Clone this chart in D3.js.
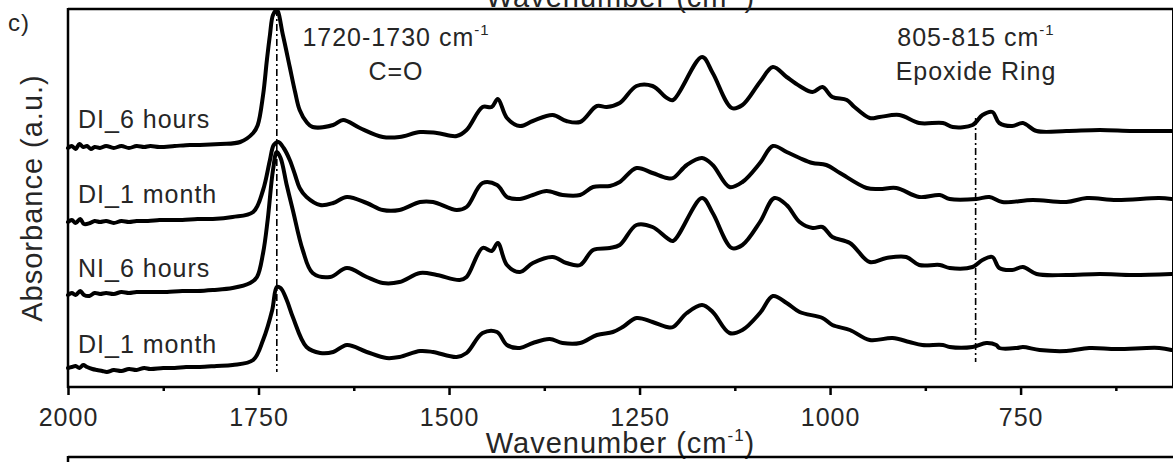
<!DOCTYPE html>
<html>
<head>
<meta charset="utf-8">
<script src="https://cdn.jsdelivr.net/npm/d3@7"></script>
<style>
    body { margin: 0; background: #fff; }
    text { font-family: "Liberation Sans", Arial, sans-serif; fill: #262626; letter-spacing: 1px; }
    .spectrum { fill: none; stroke: #000; stroke-width: 4; stroke-linejoin: round; stroke-linecap: round; }
    .guide { stroke: #000; stroke-width: 1.6; stroke-dasharray: 7,3,2,3; }
    .frame { stroke: #000; }
</style>
</head>
<body>
<svg id="plate" width="1173" height="462"></svg>
<script>
// series names, top to bottom
var seriesNames = ['DI_6 hours', 'DI_1 month', 'NI_6 hours', 'DI_1 month'];

// [wavenumber, absorbance (a.u., offset stacked)]
var di6h = [
    [2000, 2.39], [1995, 2.41], [1990, 2.38], [1985, 2.43], [1980, 2.40], [1975, 2.41], [1970, 2.38],
    [1965, 2.40], [1958, 2.39], [1950, 2.41], [1940, 2.39], [1930, 2.41], [1920, 2.39], [1910, 2.41],
    [1900, 2.40], [1892, 2.41], [1880, 2.40], [1860, 2.41], [1840, 2.42], [1827, 2.42], [1800, 2.43],
    [1774, 2.45],
    [1757, 2.54], [1751, 2.62], [1744, 2.92], [1739, 3.27], [1735, 3.52], [1731, 3.72], [1726, 3.77],
    [1718, 3.52], [1709, 3.20], [1702, 2.95], [1696, 2.77], [1687, 2.65], [1679, 2.60], [1652, 2.62],
    [1639, 2.67], [1617, 2.59], [1587, 2.50], [1565, 2.50], [1538, 2.55], [1516, 2.54], [1490, 2.51],
    [1477, 2.57], [1456, 2.80], [1444, 2.80], [1436, 2.88], [1424, 2.69], [1407, 2.61], [1390, 2.66],
    [1364, 2.72], [1346, 2.66], [1328, 2.65], [1306, 2.81], [1293, 2.80], [1276, 2.84], [1254, 3.01],
    [1233, 3.01], [1214, 2.89], [1206, 2.87], [1168, 3.30], [1154, 3.14], [1129, 2.79], [1115, 2.82],
    [1092, 3.05], [1075, 3.20], [1057, 3.10], [1040, 3.01], [1023, 2.95], [1010, 3.00], [997, 2.90],
    [978, 2.87], [968, 2.80], [948, 2.69], [935, 2.70], [909, 2.72], [883, 2.64], [852, 2.64],
    [839, 2.60], [813, 2.62], [800, 2.72], [787, 2.75], [778, 2.64], [761, 2.61], [747, 2.64],
    [729, 2.56], [690, 2.56], [646, 2.57], [603, 2.56], [552, 2.56]
];

var di1m = [
    [2000, 1.65], [1995, 1.67], [1990, 1.64], [1984, 1.68], [1979, 1.63], [1971, 1.64], [1965, 1.66],
    [1958, 1.65], [1950, 1.66], [1940, 1.64], [1930, 1.66], [1920, 1.65], [1910, 1.66], [1895, 1.66],
    [1880, 1.67], [1870, 1.67], [1850, 1.67], [1830, 1.68], [1810, 1.68], [1784, 1.70],
    [1757, 1.75], [1744, 1.97], [1735, 2.27],
    [1730, 2.42], [1724, 2.45], [1717, 2.39], [1709, 2.27], [1702, 2.12], [1696, 1.99], [1687, 1.90],
    [1669, 1.82], [1652, 1.84], [1634, 1.90], [1608, 1.84], [1587, 1.77], [1565, 1.77], [1538, 1.85],
    [1521, 1.85], [1490, 1.77], [1477, 1.80], [1456, 2.04], [1437, 2.02], [1424, 1.90], [1407, 1.88],
    [1390, 1.92], [1372, 1.96], [1351, 1.92], [1328, 1.92], [1311, 2.00], [1289, 2.01], [1276, 2.05],
    [1254, 2.19], [1233, 2.14], [1214, 2.09], [1206, 2.09], [1188, 2.22], [1168, 2.29], [1154, 2.22],
    [1132, 2.00], [1115, 2.05], [1092, 2.24], [1075, 2.41], [1057, 2.35], [1040, 2.29], [1023, 2.24],
    [1005, 2.22], [987, 2.14], [952, 1.99], [935, 1.98], [913, 1.99], [883, 1.90], [856, 1.92],
    [843, 1.88], [808, 1.88], [791, 1.90], [774, 1.85], [734, 1.87], [690, 1.85], [663, 1.89],
    [624, 1.87], [568, 1.89], [552, 1.88]
];

var ni6h = [
    [2000, 0.92], [1995, 0.94], [1990, 0.92], [1984, 0.96], [1979, 0.92], [1972, 0.91], [1965, 0.94],
    [1958, 0.93], [1950, 0.94], [1940, 0.93], [1930, 0.95], [1920, 0.94], [1910, 0.95], [1895, 0.95],
    [1880, 0.95], [1870, 0.95], [1850, 0.96], [1830, 0.96], [1810, 0.97], [1784, 0.99],
    [1761, 1.04], [1752, 1.10], [1744, 1.34],
    [1738, 1.67], [1731, 2.17], [1726, 2.35], [1721, 2.29], [1713, 2.02], [1705, 1.77], [1692, 1.37],
    [1679, 1.14], [1656, 1.10], [1634, 1.19], [1608, 1.10], [1587, 1.04], [1565, 1.05], [1538, 1.14],
    [1516, 1.12], [1486, 1.07], [1477, 1.10], [1456, 1.39], [1444, 1.36], [1436, 1.44], [1424, 1.22],
    [1407, 1.15], [1390, 1.24], [1364, 1.30], [1346, 1.24], [1328, 1.22], [1311, 1.37], [1289, 1.39],
    [1276, 1.42], [1254, 1.62], [1233, 1.60], [1214, 1.49], [1206, 1.46], [1168, 1.89], [1154, 1.74],
    [1129, 1.39], [1115, 1.42], [1092, 1.65], [1073, 1.89], [1057, 1.82], [1040, 1.65], [1023, 1.59],
    [1010, 1.60], [997, 1.50], [974, 1.44], [948, 1.25], [926, 1.29], [900, 1.30], [883, 1.22],
    [856, 1.22], [843, 1.19], [813, 1.20], [800, 1.27], [787, 1.30], [778, 1.19], [761, 1.17],
    [747, 1.20], [729, 1.13], [690, 1.12], [646, 1.13], [603, 1.12], [552, 1.13]
];

var di1mB = [
    [2000, 0.19], [1995, 0.20], [1990, 0.21], [1985, 0.19], [1980, 0.22], [1975, 0.20], [1968, 0.18],
    [1962, 0.17], [1955, 0.16], [1949, 0.15], [1940, 0.17], [1930, 0.16], [1920, 0.18], [1910, 0.17],
    [1900, 0.19], [1892, 0.18], [1875, 0.19], [1860, 0.19], [1845, 0.20], [1827, 0.20], [1805, 0.21],
    [1784, 0.22],
    [1757, 0.27], [1744, 0.47], [1732, 0.77],
    [1726, 1.00], [1721, 0.99], [1713, 0.87], [1705, 0.70], [1687, 0.40], [1669, 0.34], [1652, 0.35],
    [1634, 0.42], [1608, 0.35], [1582, 0.29], [1565, 0.30], [1538, 0.36], [1521, 0.35], [1490, 0.30],
    [1477, 0.34], [1456, 0.54], [1437, 0.55], [1424, 0.42], [1407, 0.39], [1390, 0.44], [1368, 0.48],
    [1351, 0.44], [1328, 0.44], [1306, 0.52], [1285, 0.55], [1272, 0.60], [1254, 0.69], [1233, 0.65],
    [1214, 0.60], [1206, 0.60], [1188, 0.74], [1168, 0.82], [1154, 0.75], [1132, 0.54], [1115, 0.57],
    [1092, 0.74], [1075, 0.91], [1057, 0.84], [1040, 0.75], [1010, 0.69], [997, 0.62], [974, 0.57],
    [948, 0.47], [918, 0.49], [896, 0.45], [879, 0.42], [852, 0.42], [843, 0.40], [813, 0.40],
    [795, 0.44], [782, 0.42], [778, 0.39], [755, 0.39], [747, 0.40], [725, 0.37], [690, 0.36],
    [660, 0.39], [624, 0.38], [568, 0.39], [552, 0.37]
];

var majorTicks = [2000, 1750, 1500, 1250, 1000, 750];
var minorTicks = [1875, 1625, 1375, 1125, 875, 625];

// dash-dot guides: wavenumber, lower and upper absorbance
var guides = [[1726, 0.15, 3.78], [809, 0.25, 2.69]];

var svg = d3.select('#plate');
var margin = {top: 9, right: 0, bottom: 75, left: 68};
var W = 1173, H = 462;

var x = d3.scaleLinear().domain([2000, 550]).range([margin.left, W - margin.right]);
var y = d3.scaleLinear().domain([0, 3.78]).range([H - margin.bottom, margin.top]);

var line = d3.line()
    .curve(d3.curveCatmullRom.alpha(0.5))
    .x(function(d) { return x(d[0]); })
    .y(function(d) { return y(d[1]); });

// guides under the curves
svg.selectAll('.guide')
    .data(guides)
    .enter().append('line')
    .attr('class', 'guide')
    .attr('x1', function(d) { return x(d[0]); })
    .attr('x2', function(d) { return x(d[0]); })
    .attr('y1', function(d) { return y(d[2]); })
    .attr('y2', function(d) { return y(d[1]); });

// the spectra
svg.selectAll('.spectrum')
    .data([di6h, di1m, ni6h, di1mB])
    .enter().append('path')
    .attr('class', 'spectrum')
    .attr('d', line);

// frame
var x0 = x.range()[0], x1 = x.range()[1], yb = y.range()[0], yt = y.range()[1];
svg.append('line').attr('class', 'frame').attr('x1', x0).attr('x2', x1).attr('y1', yt).attr('y2', yt).attr('stroke-width', 2.5);
svg.append('line').attr('class', 'frame').attr('x1', x1 - 0.5).attr('x2', x1 - 0.5).attr('y1', yt).attr('y2', yb).attr('stroke-width', 1);
svg.append('line').attr('class', 'frame').attr('x1', x0).attr('x2', x0).attr('y1', yt - 1).attr('y2', yb + 1).attr('stroke-width', 2.5);

// x axis
var axis = svg.append('g')
    .attr('transform', 'translate(0,' + yb + ')');
axis.append('g')
    .call(d3.axisBottom(x).tickValues(minorTicks).tickSize(4).tickFormat(''))
    .call(function(g) { g.select('.domain').remove(); })
    .selectAll('line').attr('stroke-width', 2.5);
var major = axis.append('g')
    .call(d3.axisBottom(x).tickValues(majorTicks).tickSize(8).tickPadding(13).tickFormat(d3.format('d')));
major.select('.domain').remove();
major.selectAll('line').attr('stroke-width', 2.5);
major.selectAll('text')
    .attr('font-size', 25)
    .attr('font-family', '"Liberation Sans", Arial, sans-serif')
    .attr('fill', '#262626');
axis.append('line').attr('class', 'frame').attr('x1', x0 - 1).attr('x2', x1).attr('y1', 0).attr('y2', 0).attr('stroke-width', 2.5);

// axis titles
function wavenumberTitle(ty) {
    var t = svg.append('text')
        .attr('x', (x0 + x1) / 2)
        .attr('y', ty)
        .attr('text-anchor', 'middle')
        .attr('font-size', 29);
    t.append('tspan').text('Wavenumber (cm');
    t.append('tspan').attr('font-size', 17).attr('dy', -12).text('-1');
    t.append('tspan').attr('dy', 12).text(')');
}
wavenumberTitle(453);
// clipped title of the panel above
wavenumberTitle(7);

// frame of the panel below
svg.append('line').attr('class', 'frame').attr('x1', x0).attr('x2', x1).attr('y1', 457).attr('y2', 457).attr('stroke-width', 2.5);
svg.append('line').attr('class', 'frame').attr('x1', x0).attr('x2', x0).attr('y1', 456).attr('y2', 462).attr('stroke-width', 2.5);

svg.append('text')
    .attr('transform', 'translate(42,' + ((yt + yb) / 2) + ') rotate(-90)')
    .attr('text-anchor', 'middle')
    .attr('font-size', 29)
    .text('Absorbance (a.u.)');

svg.append('text')
    .attr('x', 8).attr('y', 31)
    .attr('font-size', 24)
    .text('c)');

// series labels
var labelY = [128, 203, 277, 353];
svg.selectAll('.slabel')
    .data(seriesNames)
    .enter().append('text')
    .attr('class', 'slabel')
    .attr('x', 78)
    .attr('y', function(d, i) { return labelY[i]; })
    .attr('font-size', 25)
    .text(function(d) { return d; });

// peak annotations
function annot(cx, cy, range, name) {
    var t = svg.append('text').attr('x', cx).attr('y', cy).attr('text-anchor', 'middle').attr('font-size', 25);
    t.append('tspan').text(range + ' cm');
    t.append('tspan').attr('font-size', 15).attr('dy', -11).text('-1');
    svg.append('text').attr('x', cx).attr('y', cy + 34).attr('text-anchor', 'middle').attr('font-size', 25).text(name);
}
annot(396, 46, '1720-1730', 'C=O');
annot(976, 46, '805-815', 'Epoxide Ring');
</script>
</body>
</html>
